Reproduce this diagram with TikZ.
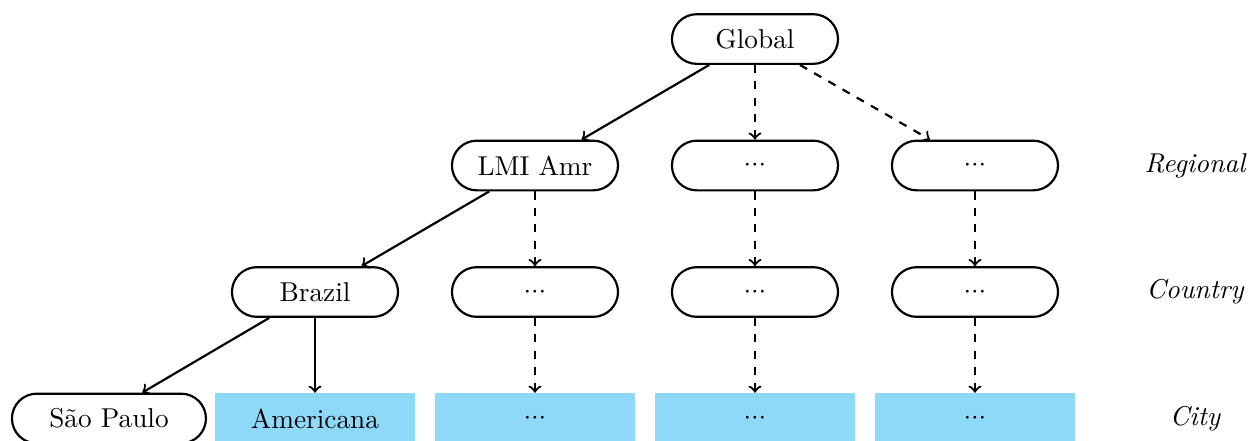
\documentclass[tikz,border=0pt]{standalone}
\usepackage{tikz}
\usetikzlibrary{positioning}
\definecolor{cityblue}{RGB}{142,216,248}
\newcommand{\mdots}{${\cdotp}{\cdotp}{\cdotp}$}

\begin{document}
\begin{tikzpicture}[node distance=1.63cm and 2.835cm, on grid,
    box/.style={rectangle, rounded corners=0.32cm, draw, line width=0.8pt, minimum height=0.64cm, minimum width=2.14cm},
    cell/.style={rectangle, fill=cityblue, minimum height=0.65cm, minimum width=2.58cm},
    lvl/.style={font=\itshape},
    link/.style={->, line width=0.8pt}]

\useasboundingbox (0,0) rectangle (16.134,-5.683);

% hierarchy
\node (glob) [box] at (9.729,-0.503) {Global};

\node (reg2) [box, below=of glob] {\mdots};
\node (lmi) [box, left=of reg2] {LMI Amr};
\node (reg3) [box, right=of reg2] {\mdots};

\node (cty2) [box, below=of lmi] {\mdots};
\node (brazil) [box, left=of cty2] {Brazil};
\node (cty3) [box, below=of reg2] {\mdots};
\node (cty4) [box, below=of reg3] {\mdots};

\node (amer) [cell, below=of brazil] {Americana};
\node (sao) [box, minimum width=2.5cm, left=2.655cm of amer] {S\~ao Paulo};
\node (city3) [cell, below=of cty2] {\mdots};
\node (city4) [cell, below=of cty3] {\mdots};
\node (city5) [cell, below=of cty4] {\mdots};

% level names
\node (lreg) [lvl, right=of reg3] {Regional};
\node (lcty) [lvl, right=of cty4] {Country};
\node (lcity) [lvl, right=of city5] {City};

% links
\draw [link] ([xshift=-0.59cm]glob.south) -- ([xshift=0.6cm]lmi.north);
\draw [link, dashed] (glob) -- (reg2);
\draw [link, dashed] ([xshift=0.58cm]glob.south) -- ([xshift=-0.58cm]reg3.north);

\draw [link] ([xshift=-0.59cm]lmi.south) -- ([xshift=0.6cm]brazil.north);
\draw [link, dashed] (lmi) -- (cty2);
\draw [link, dashed] (reg2) -- (cty3);
\draw [link, dashed] (reg3) -- (cty4);

\draw [link] ([xshift=-0.59cm]brazil.south) -- ([xshift=0.43cm]sao.north);
\draw [link] (brazil) -- (amer);
\draw [link, dashed] (cty2) -- (city3);
\draw [link, dashed] (cty3) -- (city4);
\draw [link, dashed] (cty4) -- (city5);

\end{tikzpicture}
\end{document}
